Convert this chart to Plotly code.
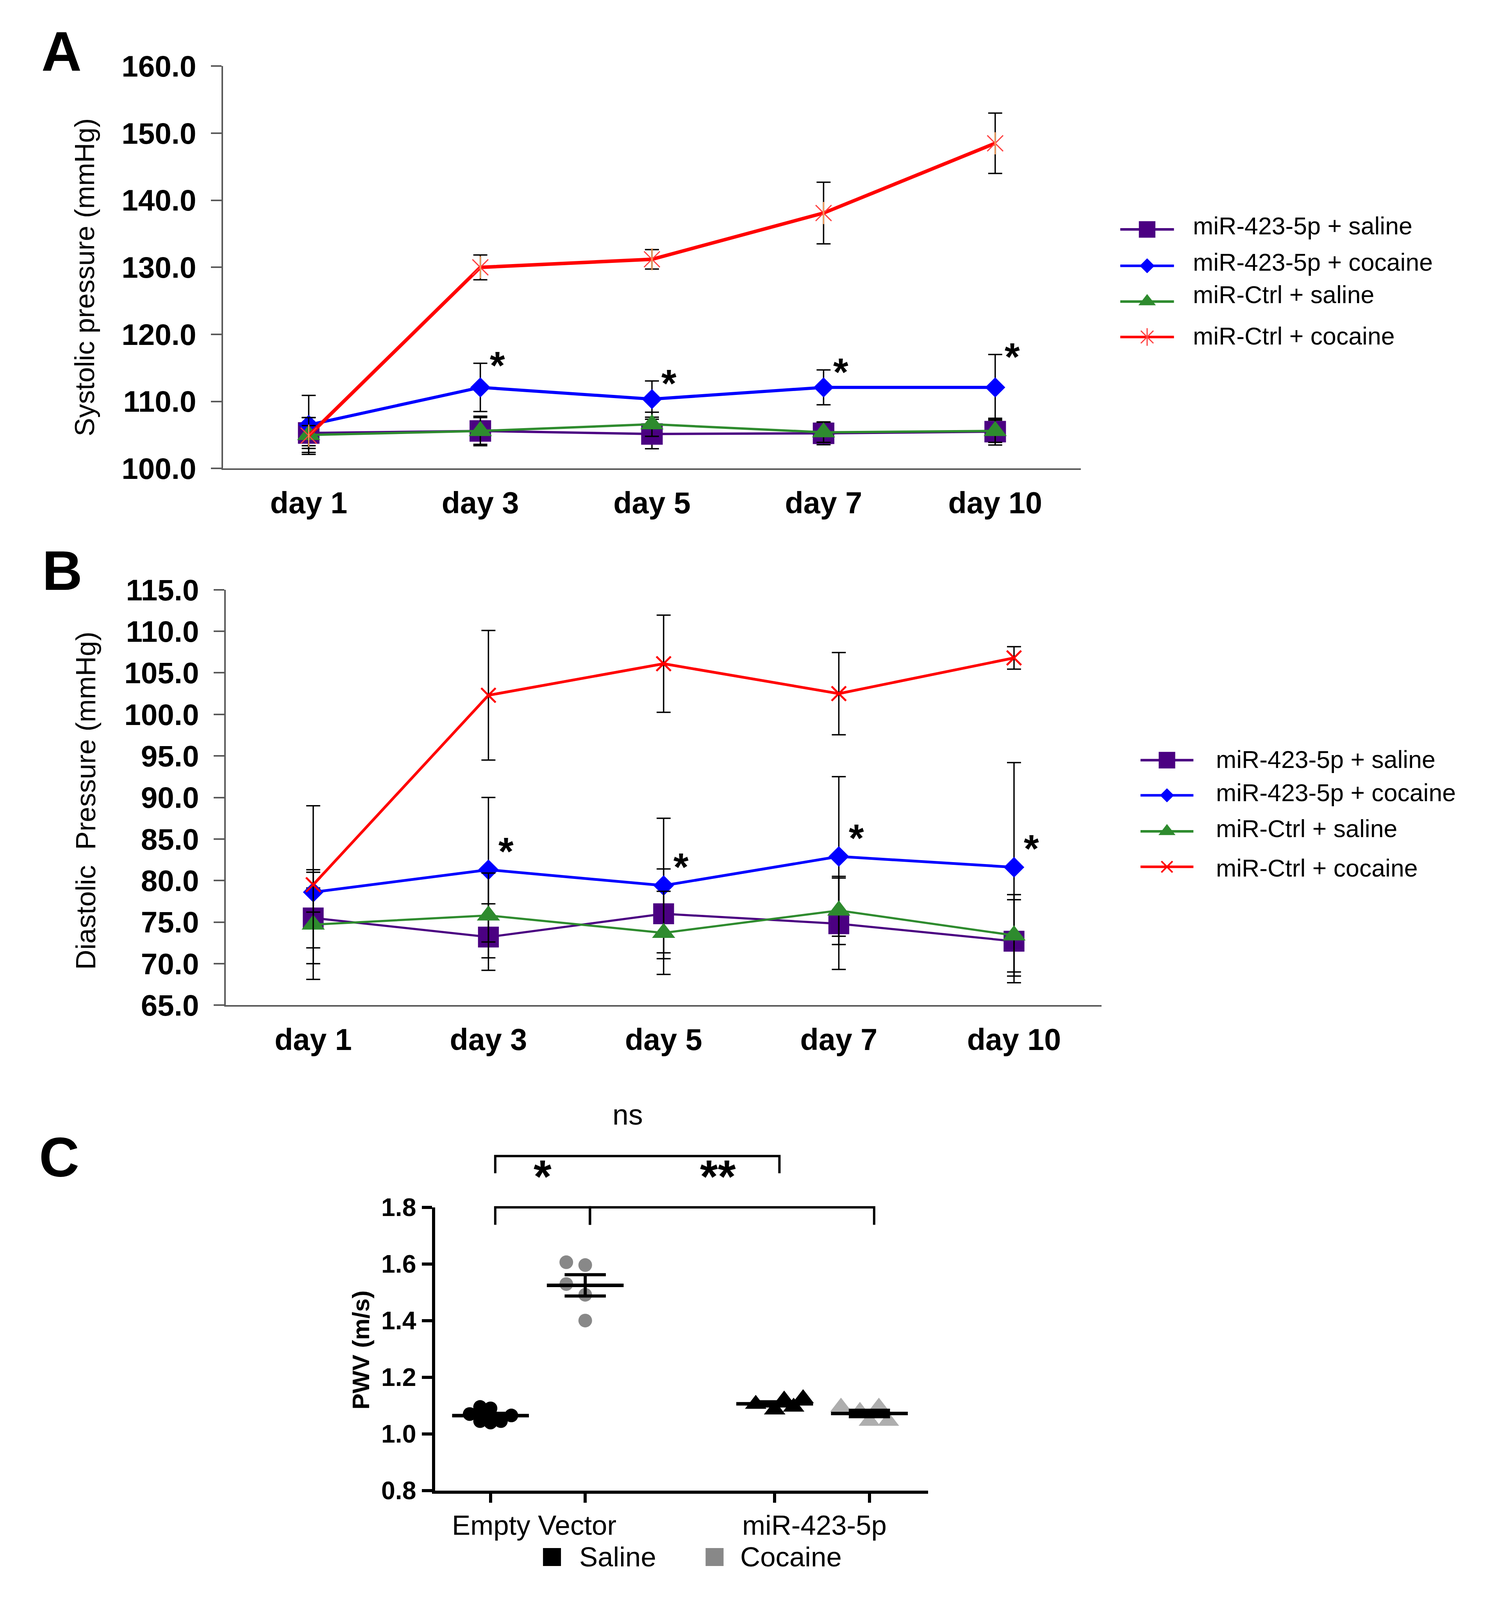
import numpy as np
import plotly.graph_objects as go

# Reference layout is measured in 3835x5019 px; the sandbox browser only shows
# 4096 rows, so the figure is drawn a bit shorter and every position is kept
# as a fraction of the reference.
REF_W, REF_H = 3835, 5019
FIG_W, FIG_H = 3819, 4080
SX, SY = FIG_W / REF_W, FIG_H / REF_H
F = 0.92  # font / marker scale
FONT = "Liberation Sans, Arial, sans-serif"

# ---------------- data ----------------
days = ["day 1", "day 3", "day 5", "day 7", "day 10"]
series_names = ["miR-423-5p + saline", "miR-423-5p + cocaine",
                "miR-Ctrl + saline", "miR-Ctrl + cocaine"]

# Panel A - systolic pressure (mmHg), mean and error
sys_mir_saline = [105.3, 105.6, 105.15, 105.25, 105.5]
sys_mir_saline_err = [2.3, 2.2, 2.2, 1.7, 2.0]
sys_mir_cocaine = [106.5, 112.1, 110.35, 112.1, 112.1]
sys_mir_cocaine_err = [4.4, 3.6, 2.7, 2.6, 4.9]
sys_ctrl_saline = [105.0, 105.6, 106.6, 105.4, 105.6]
sys_ctrl_saline_err = [2.6, 2.0, 1.8, 1.5, 1.7]
sys_ctrl_cocaine = [104.9, 130.0, 131.2, 138.1, 148.5]
sys_ctrl_cocaine_err = [1.5, 1.85, 1.45, 4.6, 4.5]
sys_ticks = [100, 110, 120, 130, 140, 150, 160]

# Panel B - diastolic pressure (mmHg)
dia_mir_saline = [75.5, 73.2, 76.0, 74.8, 72.7]
dia_mir_saline_err = [3.6, 4.0, 5.4, 5.5, 5.0]
dia_mir_cocaine = [78.6, 81.3, 79.4, 82.9, 81.6]
dia_mir_cocaine_err = [2.4, 8.7, 8.1, 9.6, 12.6]
dia_ctrl_saline = [74.7, 75.8, 73.7, 76.4, 73.4]
dia_ctrl_saline_err = [6.6, 5.1, 5.0, 4.1, 4.9]
dia_ctrl_cocaine = [79.5, 102.3, 106.1, 102.5, 106.8]
dia_ctrl_cocaine_err = [9.5, 7.8, 5.85, 4.95, 1.35]
dia_ticks = [65, 70, 75, 80, 85, 90, 95, 100, 105, 110, 115]

# days marked with * (index into days)
star_days = [1, 2, 3, 4]

# Panel C - PWV (m/s), individual animals
c_group_labels = ["Empty Vector", "miR-423-5p"]
c_condition_labels = ["Saline", "Cocaine"]
pwv_ev_saline = [1.045, 1.04, 1.045, 1.065, 1.07, 1.095, 1.09]
pwv_ev_cocaine = [1.529, 1.596, 1.606, 1.491, 1.400]
pwv_mir_saline = [1.125, 1.12, 1.095, 1.085, 1.105]
pwv_mir_cocaine = [1.08, 1.095, 1.095, 1.045, 1.045]
pwv_ticks = [0.8, 1.0, 1.2, 1.4, 1.6, 1.8]


# ---------------- layout helpers (reference px -> paper) ----------------
def paper(xp, yp):
    return xp / REF_W, 1 - yp / REF_H


def dom_x(x0, x1):
    return [x0 / REF_W, x1 / REF_W]


def dom_y(ytop, ybot):
    return [1 - ybot / REF_H, 1 - ytop / REF_H]


def f(v):
    return round(v * F, 1)


A_X, A_Y = dom_x(565, 2771), dom_y(150, 1444)
B_X, B_Y = dom_x(572, 2824), dom_y(1834, 3170)
C_X, C_Y = dom_x(1111, 2378), dom_y(3820, 4731)
C_XR, C_YR = [0.417, 5.62], [0.8, 1.8]
c_pos = [1, 2, 4, 5]


def c_paper(x, y):
    px = C_X[0] + (x - C_XR[0]) / (C_XR[1] - C_XR[0]) * (C_X[1] - C_X[0])
    py = C_Y[0] + (y - C_YR[0]) / (C_YR[1] - C_YR[0]) * (C_Y[1] - C_Y[0])
    return px, py


purple, blue, green, red = "#4B0082", "#0000FF", "#2E8B2E", "#FF0000"
axis_gray = "#595959"

fig = go.Figure()


def line_panel(xa, ya, vals, errs, styles):
    for v, e, s in zip(vals, errs, styles):
        fig.add_trace(go.Scatter(
            x=list(range(len(days))), y=v, xaxis=xa, yaxis=ya,
            mode="lines+markers",
            line=dict(color=s["color"], width=s["lw"]),
            marker=dict(symbol=s["symbol"], size=f(s["size"]), color=s["mcolor"],
                        line=dict(color=s["mcolor"], width=s["mlw"])),
            error_y=dict(type="data", array=e, color="black", thickness=3.5, width=18 * SX),
            hoverinfo="skip", showlegend=False, cliponaxis=False))


styles_a = [
    dict(color=purple, mcolor=purple, lw=6, symbol="square", size=60, mlw=0),
    dict(color=blue, mcolor=blue, lw=8, symbol="diamond", size=43, mlw=0),
    dict(color=green, mcolor=green, lw=6, symbol="triangle-up", size=56, mlw=0),
    dict(color=red, mcolor="#FF4040", lw=9, symbol="x-thin-open", size=44, mlw=3),
]
styles_b = [
    dict(color=purple, mcolor=purple, lw=5.5, symbol="square", size=58, mlw=0),
    dict(color=blue, mcolor=blue, lw=7, symbol="diamond", size=44, mlw=0),
    dict(color=green, mcolor=green, lw=5.5, symbol="triangle-up", size=56, mlw=0),
    dict(color=red, mcolor=red, lw=7, symbol="x-thin-open", size=40, mlw=5),
]

line_panel("x", "y",
           [sys_mir_saline, sys_mir_cocaine, sys_ctrl_saline, sys_ctrl_cocaine],
           [sys_mir_saline_err, sys_mir_cocaine_err, sys_ctrl_saline_err, sys_ctrl_cocaine_err],
           styles_a)
# vertical arm of the star marker
fig.add_trace(go.Scatter(
    x=list(range(len(days))), y=sys_ctrl_cocaine, xaxis="x", yaxis="y", mode="markers",
    marker=dict(symbol="line-ns-open", size=f(44), line=dict(color="#FF4040", width=3)),
    hoverinfo="skip", showlegend=False, cliponaxis=False))

line_panel("x2", "y2",
           [dia_mir_saline, dia_mir_cocaine, dia_ctrl_saline, dia_ctrl_cocaine],
           [dia_mir_saline_err, dia_mir_cocaine_err, dia_ctrl_saline_err, dia_ctrl_cocaine_err],
           styles_b)


# ---------------- panel C ----------------
def swarm(values, pos, step, dist, xscale=243.5 * SX, yscale=911.0 * SY):
    """Simple beeswarm: move a point sideways until it no longer overlaps."""
    values = np.asarray(values, dtype=float)
    xs = np.zeros(len(values))
    placed = []
    for n, i in enumerate(np.argsort(values, kind="stable")):
        v = values[i]
        k, chosen = 0, None
        side = 1 if n % 2 else -1
        while chosen is None:
            cands = [0.0] if k == 0 else [side * k * step, -side * k * step]
            for off in cands:
                if all(np.hypot((off - po) * xscale, (v - pv) * yscale) >= dist
                       for po, pv in placed):
                    chosen = off
                    break
            k += 1
        placed.append((chosen, v))
        xs[i] = pos + chosen
    return xs


c_sets = [pwv_ev_saline, pwv_ev_cocaine, pwv_mir_saline, pwv_mir_cocaine]
c_styles = [
    dict(symbol="circle", color="black", size=38, dist=26, step=0.11),
    dict(symbol="circle", color="#888888", size=38, dist=32, step=0.2),
    dict(symbol="triangle-up", color="black", size=52, dist=30, step=0.1),
    dict(symbol="triangle-up", color="#AEAEAE", size=52, dist=30, step=0.1),
]
for vals, pos, st in zip(c_sets, c_pos, c_styles):
    fig.add_trace(go.Scatter(
        x=swarm(vals, pos, st["step"], st["dist"]), y=vals, xaxis="x3", yaxis="y3",
        mode="markers", marker=dict(symbol=st["symbol"], size=f(st["size"]), color=st["color"]),
        hoverinfo="skip", showlegend=False, cliponaxis=False))

means = [float(np.mean(v)) for v in c_sets]
sems = [float(np.std(v, ddof=1) / np.sqrt(len(v))) for v in c_sets]
fig.add_trace(go.Scatter(
    x=c_pos, y=means, xaxis="x3", yaxis="y3", mode="markers",
    marker=dict(symbol="line-ew", size=141 * SX, color="black", line=dict(color="black", width=9)),
    error_y=dict(type="data", array=sems, color="black", thickness=8, width=53 * SX),
    hoverinfo="skip", showlegend=False, cliponaxis=False))


# ---------------- overlay (paper-space) decorations ----------------
def overlay_line(xs, ys, color, width):
    fig.add_trace(go.Scatter(x=xs, y=ys, xaxis="x4", yaxis="y4", mode="lines",
                             line=dict(color=color, width=width),
                             hoverinfo="skip", showlegend=False, cliponaxis=False))


def overlay_marker(x, y, symbol, size, color, lw=0):
    fig.add_trace(go.Scatter(x=[x], y=[y], xaxis="x4", yaxis="y4", mode="markers",
                             marker=dict(symbol=symbol, size=size, color=color,
                                         line=dict(color=color, width=lw)),
                             hoverinfo="skip", showlegend=False, cliponaxis=False))


annotations = []


def text(xp, yp, s, size, bold=False, angle=0, xanchor="center", yshift=0):
    x, y = paper(xp, yp)
    annotations.append(dict(
        x=x, y=y, xref="paper", yref="paper", text=s, showarrow=False,
        xanchor=xanchor, yanchor="middle", textangle=angle, yshift=yshift,
        font=dict(family=FONT, size=f(size), color="black",
                  weight="bold" if bold else "normal")))


def legend_block(x0, x1, xt, sym_rows, txt_rows, leg_styles, star_arm):
    for name, ys, yt, st in zip(series_names, sym_rows, txt_rows, leg_styles):
        (px0, py), (px1, _) = paper(x0, ys), paper(x1, ys)
        overlay_line([px0, px1], [py, py], st["color"], 6.5)
        cx = (px0 + px1) / 2
        overlay_marker(cx, py, st["symbol"], f(st["size"]), st["mcolor"], st["mlw"])
        if star_arm and st["symbol"] == "x-thin-open":
            overlay_marker(cx, py, "line-ns-open", f(st["size"]), st["mcolor"], st["mlw"])
        text(xt, yt, name, 68, xanchor="left")


leg_a = [dict(s, size=sz) for s, sz in zip(styles_a, [46, 32, 42, 35])]
leg_b = [dict(s, size=sz, mlw=(4 if s["mlw"] else 0)) for s, sz in zip(styles_b, [46, 30, 41, 31])]
legend_block(2872, 3010, 3057, [675, 792, 907, 1021], [663, 780, 885, 1017], leg_a, True)
legend_block(2924, 3060, 3116, [2382, 2495, 2611, 2725], [2379, 2486, 2602, 2729], leg_b, False)

# panel letters and axis titles
text(150, 102, "A", 155, bold=True)
text(152, 1772, "B", 155, bold=True)
text(144, 3659, "C", 155, bold=True)
text(210, 829, "Systolic pressure (mmHg)", 77, angle=-90)
text(212, 2513, "Diastolic\u00a0 Pressure (mmHg)", 77, angle=-90)
text(920, 4279, "PWV (m/s)", 67, bold=True, angle=-90)

# significance stars on the line panels
star_font = dict(family=FONT, size=f(108), color="black", weight="bold")
for d in star_days:
    annotations.append(dict(
        x=d + 0.1, y=sys_mir_cocaine[d] + sys_mir_cocaine_err[d] + 1.0, xref="x", yref="y",
        text="*", showarrow=False, yshift=-f(25), font=star_font))
    annotations.append(dict(
        x=d + 0.1, y=dia_mir_cocaine[d] + 3.3, xref="x2", yref="y2",
        text="*", showarrow=False, yshift=-f(25), font=star_font))

# panel C brackets: (left group, right group, top, leg bottom, label, label y)
brackets = [(0, 2, 1.981, 1.92, "ns", 2.06),
            (0, 1, 1.80, 1.738, "*", 1.853),
            (1, 3, 1.80, 1.738, "**", 1.853)]
for g0, g1, top, low, lab, ly in brackets:
    xa, xb = c_pos[g0] + 0.05, c_pos[g1] + 0.05
    p0, p1 = c_paper(xa, low), c_paper(xa, top)
    p2, p3 = c_paper(xb, top), c_paper(xb, low)
    overlay_line([p0[0], p1[0], p2[0], p3[0]], [p0[1], p1[1], p2[1], p3[1]], "black", 6)
    lx, lyp = c_paper((xa + xb) / 2 - (0.15 if lab == "**" else 0.1 if lab == "ns" else 0), ly)
    is_ns = lab == "ns"
    annotations.append(dict(
        x=lx, y=lyp, xref="paper", yref="paper", text=lab, showarrow=False,
        yshift=(f(6) if is_ns else -f(30)),
        font=dict(family=FONT, size=f(80 if is_ns else 128), color="black",
                  weight="normal" if is_ns else "bold")))

# panel C group labels and condition key
gx0 = c_paper((c_pos[0] + c_pos[1]) / 2, 0.8)[0] * REF_W
gx1 = c_paper((c_pos[2] + c_pos[3]) / 2, 0.8)[0] * REF_W
text(gx0 - 10, 4842, c_group_labels[0], 77)
text(gx1 - 20, 4842, c_group_labels[1], 77)
for (sx, tx), lab, col in zip([(1411, 1479), (1829, 1893)], c_condition_labels, ["black", "#888888"]):
    mx, my = paper(sx, 4945)
    overlay_marker(mx, my, "square", f(50), col)
    text(tx, 4944, lab, 77, xanchor="left")


# ---------------- axes ----------------
def y_line_axis(dom, rng, ticks):
    return dict(domain=dom, range=rng, tickvals=ticks, tickformat=".1f",
                showgrid=False, zeroline=False, showline=True, linecolor=axis_gray, linewidth=4,
                ticks="outside", ticklen=27 * SX, tickwidth=4, tickcolor=axis_gray,
                ticklabelstandoff=22,
                tickfont=dict(family=FONT, size=f(83), color="black", weight="bold"))


def x_line_axis(dom):
    return dict(domain=dom, range=[-0.5, len(days) - 0.5],
                tickvals=list(range(len(days))), ticktext=days,
                showgrid=False, zeroline=False, showline=True, linecolor=axis_gray, linewidth=4,
                ticks="", ticklabelstandoff=18,
                tickfont=dict(family=FONT, size=f(84), color="black", weight="bold"))


fig.update_layout(
    width=FIG_W, height=FIG_H, margin=dict(l=0, r=0, t=0, b=0),
    paper_bgcolor="white", plot_bgcolor="rgba(0,0,0,0)", showlegend=False,
    xaxis=dict(x_line_axis(A_X), anchor="y"),
    yaxis=dict(y_line_axis(A_Y, [100, 160], sys_ticks), anchor="x"),
    xaxis2=dict(x_line_axis(B_X), anchor="y2"),
    yaxis2=dict(y_line_axis(B_Y, [65, 115], dia_ticks), anchor="x2"),
    xaxis3=dict(domain=C_X, range=C_XR, anchor="y3", tickvals=c_pos, showticklabels=False,
                showgrid=False, zeroline=False, showline=True, linecolor="black", linewidth=8,
                ticks="outside", ticklen=28 * SY, tickwidth=8, tickcolor="black"),
    yaxis3=dict(domain=C_Y, range=C_YR, anchor="x3", tickvals=pwv_ticks, tickformat=".1f",
                showgrid=False, zeroline=False, showline=True, linecolor="black", linewidth=8,
                ticks="outside", ticklen=26 * SX, tickwidth=8, tickcolor="black",
                ticklabelstandoff=2,
                tickfont=dict(family=FONT, size=f(70), color="black", weight="bold")),
    xaxis4=dict(domain=[0, 1], range=[0, 1], anchor="y4", visible=False, fixedrange=True),
    yaxis4=dict(domain=[0, 1], range=[0, 1], anchor="x4", visible=False, fixedrange=True),
    annotations=annotations,
)

fig.write_html("out.html")
